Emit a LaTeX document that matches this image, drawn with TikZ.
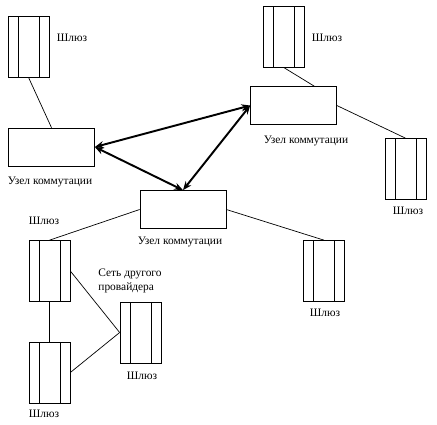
\documentclass[tikz,border=0pt]{standalone}
\usepackage{fontspec}
\setmainfont{Liberation Serif}
\usepackage{tikz}
\usetikzlibrary{arrows.meta}

\tikzset{
  gw/.style={draw, minimum width=0.82cm, minimum height=1.22cm, inner sep=0pt,
    path picture={
      \draw ([xshift=0.2cm]path picture bounding box.north west) -- ([xshift=0.2cm]path picture bounding box.south west);
      \draw ([xshift=-0.2cm]path picture bounding box.north east) -- ([xshift=-0.2cm]path picture bounding box.south east);
    }},
  sw/.style={draw, minimum width=1.72cm, minimum height=0.76cm, inner sep=0pt},
  lbl/.style={font=\fontsize{6.5}{8}\selectfont, inner sep=0pt},
  link/.style={line width=1.1pt, {Stealth[length=5pt,width=4pt]}-{Stealth[length=5pt,width=4pt]}}
}

\begin{document}
\begin{tikzpicture}[x=0.02cm,y=-0.02cm]
\useasboundingbox (0,0) rectangle (437,424);

\node[gw] (gw1) at (28.5,46.5) {};
\node[gw] (gw2) at (283.5,36.5) {};
\node[gw] (gw3) at (405.5,169) {};
\node[gw] (gw4) at (324,271) {};
\node[gw] (gw5) at (49.5,271) {};
\node[gw] (gw6) at (49.5,372.5) {};
\node[gw] (gw7) at (140.5,332.5) {};

\node[sw] (swA) at (51.5,147) {};
\node[sw] (swB) at (293.5,105.5) {};
\node[sw] (swC) at (183,209.5) {};

\node[lbl] (l1) at (72,38) {Шлюз};
\node[lbl] (l2) at (327,38) {Шлюз};
\node[lbl] (l3) at (408,211) {Шлюз};
\node[lbl] (l4) at (325,313) {Шлюз};
\node[lbl] (l5) at (44,221) {Шлюз};
\node[lbl] (l6) at (44,414) {Шлюз};
\node[lbl] (l7) at (142,376) {Шлюз};
\node[lbl] (lA) at (50,182) {Узел коммутации};
\node[lbl] (lB) at (306,141) {Узел коммутации};
\node[lbl] (lC) at (180,242) {Узел коммутации};
\node[lbl, align=left] (lnet) at (130,281) {Сеть другого\\провайдера};

\draw (gw1.south) -- (swA.north);
\draw (gw2.south) -- (swB.43);
\draw (swB.east) -- (gw3.north);
\draw (swC.east) -- (gw4.north);
\draw (swC.west) -- (gw5.north);
\draw (gw5.south) -- (gw6.north);
\draw (gw5.east) -- (gw7.west);
\draw (gw6.east) -- (gw7.west);

\draw[link] (swA.east) -- (swB.west);
\draw[link] (swA.east) -- (swC.north);
\draw[link] (swB.west) -- (swC.north);
\end{tikzpicture}
\end{document}
